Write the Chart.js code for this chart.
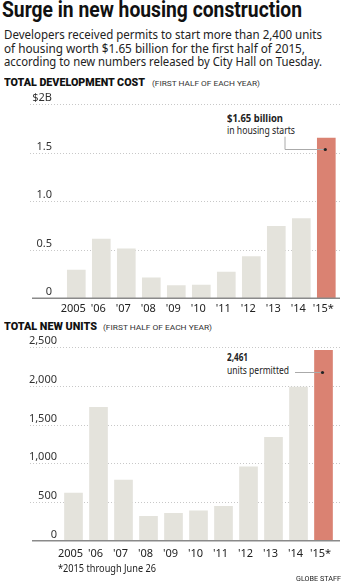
<!DOCTYPE html>
<html>
<head>
<meta charset="utf-8">
<script src="https://cdn.jsdelivr.net/npm/chart.js@4"></script>
<style>
  body { margin: 0; background: #fff; width: 346px; height: 585px; position: relative; overflow: hidden; font-family: "Noto Sans", sans-serif; color: #222; }
  .abs { position: absolute; white-space: nowrap; transform-origin: 0 0; }
  #title { left: 2px; top: -3px; font-family: Roboto, sans-serif; font-weight: bold; font-size: 22px; color: #111; }
  .sub { left: 4px; font-size: 12.4px; line-height: 14px; color: #222; }
  .head { font-family: Roboto, sans-serif; font-weight: 900; font-size: 11px; color: #111; }
  .paren { font-family: Roboto, sans-serif; font-size: 8px; color: #333; }
  .note { font-size: 11px; color: #222; line-height: 12px; }
  .bold { font-weight: bold; }
  #foot { left: 58px; top: 560px; font-size: 11.5px; color: #222; }
  #credit { left: 296px; top: 574px; font-family: Roboto, sans-serif; font-size: 8px; color: #222; }
  canvas { position: absolute; left: 0; }
</style>
</head>
<body>
<div id="title" class="abs" data-w="300">Surge in new housing construction</div>
<div class="abs sub" style="top:28px;" data-w="318">Developers received permits to start more than 2,400 units</div>
<div class="abs sub" style="top:42px;" data-w="301">of housing worth $1.65 billion for the first half of 2015,</div>
<div class="abs sub" style="top:55px;" data-w="318">according to new numbers released by City Hall on Tuesday.</div>

<div class="abs head" style="left:4px; top:76px;" data-w="141">TOTAL DEVELOPMENT COST</div>
<div class="abs paren" style="left:152px; top:79px;" data-w="108">(FIRST HALF OF EACH YEAR)</div>
<div class="abs note bold" style="left:227px; top:112px;" data-w="56">$1.65 billion</div>
<div class="abs note" style="left:227px; top:124px;" data-w="68">in housing starts</div>
<div style="position:absolute; left:0; top:90px; width:346px; height:230px;"><canvas id="costChart"></canvas></div>

<div class="abs head" style="left:4px; top:320px;" data-w="93">TOTAL NEW UNITS</div>
<div class="abs paren" style="left:103px; top:323px;" data-w="109">(FIRST HALF OF EACH YEAR)</div>
<div class="abs note bold" style="left:227px; top:351px;" data-w="21">2,461</div>
<div class="abs note" style="left:227px; top:364px;" data-w="62">units permitted</div>
<div style="position:absolute; left:0; top:330px; width:346px; height:235px;"><canvas id="unitsChart"></canvas></div>

<div id="foot" class="abs" data-w="98">*2015 through June 26</div>
<div id="credit" class="abs" data-w="45">GLOBE STAFF</div>

<script>
// Chart data
var years = ["2005", "'06", "'07", "'08", "'09", "'10", "'11", "'12", "'13", "'14", "'15*"];
var costBillions = [0.29, 0.61, 0.51, 0.21, 0.13, 0.135, 0.27, 0.43, 0.74, 0.82, 1.65];
var newUnits = [615, 1725, 785, 315, 355, 385, 445, 955, 1335, 1985, 2461];
var costTicks = ["0", "0.5", "1.0", "1.5", "$2B"];
var unitTicks = ["0", "500", "1,000", "1,500", "2,000", "2,500"];

var grayBar = "#e4e3dc";
var redBar = "#da8272";

// squeeze text lines to the widths they have in the printed graphic
var fitEls = document.querySelectorAll('[data-w]');
for (var k = 0; k < fitEls.length; k++) {
  var el = fitEls[k];
  var w = el.getBoundingClientRect().width;
  el.style.transform = 'scaleX(' + (parseFloat(el.getAttribute('data-w')) / w) + ')';
}

function barColors(n) {
  var colors = [];
  for (var i = 0; i < n; i++) {
    colors.push(i === n - 1 ? redBar : grayBar);
  }
  return colors;
}

// draws dotted gridlines, y labels, baseline and the leader line
var framePlugin = {
  id: 'frame',
  beforeDatasetsDraw: function(chart) {
    var o = chart.options.plugins.frame;
    var ctx = chart.ctx;
    var y = chart.scales.y;
    ctx.save();
    ctx.font = "11px 'Noto Sans', sans-serif";
    ctx.fillStyle = "#333";
    ctx.textAlign = "right";
    ctx.textBaseline = "middle";
    y.ticks.forEach(function(t, i) {
      var py = Math.round(y.getPixelForValue(t.value)) + 0.5;
      if (i > 0) {
        ctx.strokeStyle = "#c8c8c8";
        ctx.lineWidth = 1;
        ctx.setLineDash([1, 2]);
        ctx.beginPath();
        ctx.moveTo(o.gridLeft, py);
        ctx.lineTo(o.gridRight, py);
        ctx.stroke();
      }
      ctx.fillText(o.labels[i], o.labelRight, py - 7);
    });
    ctx.restore();
  },
  afterDatasetsDraw: function(chart) {
    var o = chart.options.plugins.frame;
    var ctx = chart.ctx;
    var y = chart.scales.y;
    var meta = chart.getDatasetMeta(0);
    var last = meta.data[meta.data.length - 1];
    ctx.save();
    // baseline
    var by = y.getPixelForValue(0);
    ctx.strokeStyle = "#8a8a8a";
    ctx.lineWidth = 1.5;
    ctx.beginPath();
    ctx.moveTo(o.gridLeft + 2, by);
    ctx.lineTo(o.gridRight, by);
    ctx.stroke();
    // leader line to the last bar
    var dx = last.x - 1;
    var dy = Math.round(y.getPixelForValue(o.pointAt)) + 0.5;
    ctx.strokeStyle = "#aaa";
    ctx.lineWidth = 1;
    ctx.beginPath();
    if (o.elbowTop !== null) {
      ctx.moveTo(o.lineStart, o.elbowTop);
      ctx.lineTo(o.lineStart, dy);
    } else {
      ctx.moveTo(o.lineStart, dy);
    }
    ctx.lineTo(dx, dy);
    ctx.stroke();
    ctx.fillStyle = "#222";
    ctx.beginPath();
    ctx.arc(dx, dy, 1.6, 0, Math.PI * 2);
    ctx.fill();
    ctx.restore();
  }
};

function makeChart(id, values, maxVal, step, pad, axisH, tickPad, frame) {
  return new Chart(document.getElementById(id), {
    type: 'bar',
    data: {
      labels: years,
      datasets: [{
        data: values,
        backgroundColor: barColors(values.length),
        borderWidth: 0,
        barThickness: 18
      }]
    },
    options: {
      responsive: true,
      maintainAspectRatio: false,
      animation: false,
      layout: { padding: pad },
      plugins: {
        legend: { display: false },
        tooltip: { enabled: false },
        frame: frame
      },
      scales: {
        x: {
          grid: { display: false, drawTicks: false },
          border: { display: false },
          ticks: {
            color: "#222",
            font: { family: "'Noto Sans', sans-serif", size: 11 },
            padding: tickPad,
            labelOffset: -3,
            maxRotation: 0,
            autoSkip: false
          },
          afterFit: function(scale) { scale.height = axisH; }
        },
        y: {
          display: false,
          min: 0,
          max: maxVal,
          ticks: { stepSize: step }
        }
      }
    },
    plugins: [framePlugin]
  });
}

makeChart('costChart', costBillions, 2, 0.5,
  { top: 14, left: 63.8, right: 7.2, bottom: 0 }, 21.7, 4,
  { labels: costTicks, gridLeft: 30, gridRight: 340, labelRight: 52,
    pointAt: 1.535, lineStart: 285, elbowTop: 136.7 - 90 });

makeChart('unitsChart', newUnits, 2500, 500,
  { top: 17.3, left: 61, right: 10, bottom: 0 }, 24.3, 7,
  { labels: unitTicks, gridLeft: 30, gridRight: 340, labelRight: 57,
    pointAt: 2183, lineStart: 295, elbowTop: null });
</script>
</body>
</html>
